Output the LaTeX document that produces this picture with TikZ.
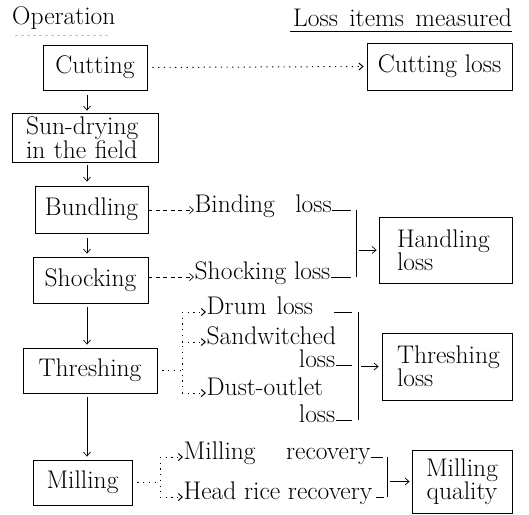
\documentclass[tikz,border=0pt]{standalone}
\usepackage{tikz}
\usetikzlibrary{
	arrows.meta,
	calc,
	positioning
}

\begin{document}
\begin{tikzpicture}[x=1pt, y=-1pt,
		font=\fontsize{25.5}{23}\selectfont,
		opbox/.style={draw, line width=0.8pt, inner sep=0pt, align=center},
		item/.style={inner sep=0.5pt, anchor=west, text height=1.45ex, text depth=0.3ex},
		flowtip/.style={-{Straight Barb[length=4pt,width=7pt]}},
		flow/.style={flowtip, line width=0.7pt},
		dots/.style={dash pattern=on 1.2pt off 4.5pt, line width=1pt},
		dashes/.style={dash pattern=on 4pt off 3.5pt, line width=0.7pt},
		bar/.style={line width=0.7pt}]
		\useasboundingbox (0,0) rectangle (529,514);
		% headings
		\node[anchor=west, inner sep=0pt] (ophead) at (12,18) {Operation};
		\node[anchor=east, inner sep=0pt] (losshead) at (512,18) {Loss\hspace{0.45em}items\hspace{0.45em}measured};
		\draw[gray!45, dashed, line width=0.6pt] ($(ophead.south west)+(3,6)$) -- ($(ophead.south east)+(-6,6)$);
		\draw[line width=0.7pt] ($(losshead.south west)+(-3,4)$) -- ($(losshead.south east)+(0,4)$);
		% operations
		\node[opbox, minimum width=104pt, minimum height=45pt] (cutting) at (95,67.5) {Cutting};
		\node[opbox, minimum width=146pt, minimum height=49pt, text width=118pt, align=left] (sundry) at (85,137.5) {Sun-drying\\in the field};
		\node[opbox, minimum width=113pt, minimum height=47pt] (bundling) at (91.5,209.5) {Bundling};
		\node[opbox, minimum width=115pt, minimum height=46pt] (shocking) at (90.5,280) {Shocking};
		\node[opbox, minimum width=134pt, minimum height=45pt] (threshing) at (90,370.5) {Threshing};
		\node[opbox, minimum width=99pt, minimum height=45pt] (milling) at (82.5,482.5) {Milling};
		\coordinate (spine) at (87,0);
		\draw[flow, shorten <=5pt, shorten >=2pt] (cutting.south -| spine) -- (sundry.north -| spine);
		\draw[flow, shorten <=3pt, shorten >=4pt] (sundry.south -| spine) -- (bundling.north -| spine);
		\draw[flow, shorten <=5pt, shorten >=3pt] (bundling.south -| spine) -- (shocking.north -| spine);
		\draw[flow, shorten <=4pt, shorten >=3pt] (shocking.south -| spine) -- (threshing.north -| spine);
		\draw[flow, shorten <=4pt, shorten >=3pt] (threshing.south -| spine) -- (milling.north -| spine);
		% loss boxes
		\node[opbox, minimum width=145pt, minimum height=47pt] (cutloss) at (439.5,66.5) {Cutting loss};
		\node[opbox, minimum width=133pt, minimum height=66pt, text width=97pt, align=left] (handling) at (445.5,250) {Handling\\loss};
		\node[opbox, minimum width=130pt, minimum height=67pt, text width=100pt, align=left] (thrloss) at (447,366.5) {Threshing\\loss};
		\node[opbox, minimum width=100pt, minimum height=63pt] (millq) at (462,481.5) {Milling\\quality};
		\draw[dots, flowtip, shorten <=5pt, shorten >=3pt] (cutting.east) -- (cutloss.west);
		% handling
		\node[item] (binding) at (194,210) {Binding\hspace{0.8em}loss};
		\node[item] (shockloss) at (194,277) {Shocking loss};
		\draw[dashes, flowtip] (bundling.east |- binding.west) -- (binding.west);
		\draw[dashes, flowtip] (shocking.east |- shockloss.west) -- (shockloss.west);
		\coordinate (handbar) at (356,250);
		\draw[bar] (handbar |- binding.east) -- (handbar |- shockloss.east);
		\draw[bar, shorten >=5pt] (binding.east) -- (handbar |- binding.east);
		\draw[bar, shorten >=5pt] (shockloss.east) -- (handbar |- shockloss.east);
		\draw[flow, shorten <=3pt, shorten >=2pt] (handbar |- handling.west) -- (handling.west);
		% threshing
		\node[item] (drum) at (206,312) {Drum\hspace{0.4em}loss};
		\node[item] (sandw) at (206,342) {Sandwitched};
		\node[item, anchor=east] (sandloss) at (336,365) {loss};
		\node[item] (dust) at (206,393) {Dust-outlet};
		\node[item, anchor=east] (dustloss) at (336,420) {loss};
		\coordinate (thsplit) at (182,370.5);
		\draw[dots, shorten <=5pt] (threshing.east) -- (thsplit);
		\draw[dots] (thsplit |- drum.west) -- (thsplit |- dust.west);
		\foreach \n in {drum,sandw,dust}
			\draw[dots, flowtip] (thsplit |- \n.west) -- (\n.west);
		\coordinate (thbar) at (358,366.5);
		\draw[bar] (thbar |- drum.east) -- (thbar |- dustloss.east);
		\draw[bar, shorten <=20pt, shorten >=6pt] (drum.east) -- (thbar |- drum.east);
		\draw[bar, shorten >=6pt] (sandloss.east) -- (thbar |- sandloss.east);
		\draw[bar, shorten >=6pt] (dustloss.east) -- (thbar |- dustloss.east);
		\draw[flow, shorten <=3pt, shorten >=3pt] (thbar |- thrloss.west) -- (thrloss.west);
		% milling
		\node[item] (millrec) at (183,457) {Milling\hspace{1.2em}recovery};
		\node[item] (headrec) at (183,497) {Head rice recovery};
		\coordinate (msplit) at (160,482.5);
		\draw[dots, shorten <=5pt] (milling.east) -- (msplit);
		\draw[dots] (msplit |- millrec.west) -- (msplit |- headrec.west);
		\foreach \n in {millrec,headrec}
			\draw[dots, flowtip] (msplit |- \n.west) -- (\n.west);
		\coordinate (mbar) at (387,481.5);
		\draw[bar] (mbar |- millrec.east) -- (mbar |- headrec.east);
		\draw[bar, shorten >=4pt] (millrec.east) -- (mbar |- millrec.east);
		\draw[bar, shorten <=3pt, shorten >=3pt] (headrec.east) -- (mbar |- headrec.east);
		\draw[flow, shorten <=3pt, shorten >=2pt] (mbar |- millq.west) -- (millq.west);
	\end{tikzpicture}
\end{document}
